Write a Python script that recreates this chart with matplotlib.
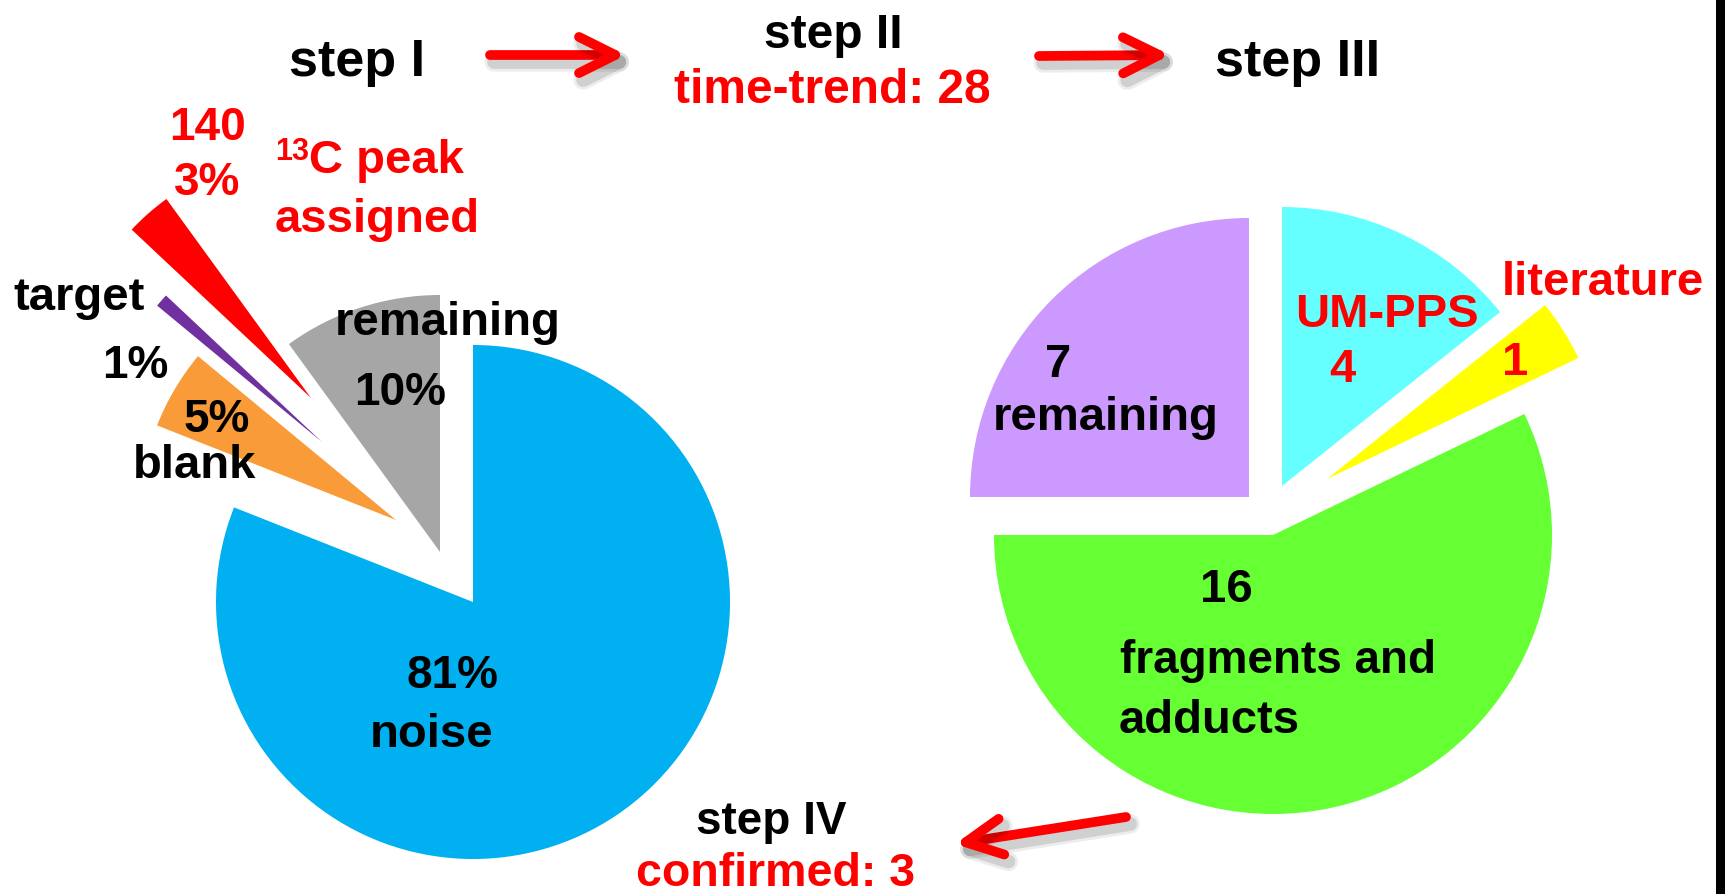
import matplotlib
matplotlib.use("Agg")
import matplotlib.pyplot as plt
from matplotlib.patches import FancyArrowPatch, ArrowStyle, Rectangle
import matplotlib.patheffects as pe

# ---------------- data ----------------
step1_labels = ["noise", "blank", "target", "13C peak assigned", "remaining"]
step1_pct = [81, 5, 1, 3, 10]
step1_colors = ["#00B0F0", "#F99B38", "#7030A0", "#FF0000", "#A6A6A6"]
n_13c = 140

step3_labels = ["UM-PPS", "literature", "fragments and adducts", "remaining"]
step3_counts = [4, 1, 16, 7]
step3_colors = ["#66FFFF", "#FFFF00", "#66FF33", "#CC99FF"]
time_trend_total = 28
confirmed = 3

# ---------------- figure ----------------
W, H = 1725, 895
fig = plt.figure(figsize=(W / 100, H / 100), dpi=100)
ax = fig.add_axes([0, 0, 1, 1])

def Y(y):  # pixel (top-down) -> data (bottom-up)
    return H - y

FONT = "Liberation Sans"

# left pie (step I)
R1 = 257
c1 = (473, Y(603))
offs1 = [(0, 0), (-77, 82), (-151, 160), (-162, 204), (-33, 50)]
rad1 = [R1, R1, 214, 246, R1]
w1, _ = ax.pie(step1_pct, colors=step1_colors, startangle=90, counterclock=False,
               radius=R1, center=c1, wedgeprops=dict(linewidth=0))
for w, (dx, dy), r in zip(w1, offs1, rad1):
    w.set_center((c1[0] + dx, c1[1] + dy))
    w.set_radius(r)

# right pie (step III)
R2 = 279
c2 = (1273, Y(536))
offs2 = [(9, 49), (54, 56), (0, 0), (-24, 38)]
w2, _ = ax.pie(step3_counts, colors=step3_colors, startangle=90, counterclock=False,
               radius=R2, center=c2, wedgeprops=dict(linewidth=0))
for w, (dx, dy) in zip(w2, offs2):
    w.set_center((c2[0] + dx, c2[1] + dy))

ax.set_xlim(0, W)
ax.set_ylim(0, H)
ax.set_aspect("equal")
ax.set_axis_off()

def T(x, y, s, size=34, color="black", ha="center"):
    ax.text(x, Y(y), s, fontsize=size, color=color, ha=ha, va="baseline",
            fontfamily=FONT, fontweight="bold")

# headings
T(357, 76, "step I", size=37.5)
T(833, 48, "step II", size=34.5)
T(832, 103, f"time-trend: {time_trend_total}", size=34.5, color="#FF0000")
T(1298, 76, "step III", size=37.5)
T(771, 834, "step IV", size=33)
T(775, 886, f"confirmed: {confirmed}", size=33.5, color="#FF0000")

# left pie labels
T(207, 140, f"{n_13c}", size=33, color="#FF0000")
T(207, 195, f"{step1_pct[3]}%", size=33, color="#FF0000")
T(275, 160, "13", size=22, color="#FF0000", ha="left")
T(309, 173, "C peak", size=34, color="#FF0000", ha="left")
T(275, 232, "assigned", size=34, color="#FF0000", ha="left")
T(79, 310, step1_labels[2], size=34)
T(135, 378, f"{step1_pct[2]}%", size=33)
T(217, 432, f"{step1_pct[1]}%", size=33)
T(195, 478, step1_labels[1], size=34)
T(448, 335, step1_labels[4], size=34)
T(400, 405, f"{step1_pct[4]}%", size=33)
T(452, 688, f"{step1_pct[0]}%", size=33)
T(432, 747, step1_labels[0], size=34)

# right pie labels
T(1058, 377, f"{step3_counts[3]}", size=34)
T(1106, 430, step3_labels[3], size=34)
T(1387, 327, step3_labels[0], size=34, color="#FF0000")
T(1342, 382, f"{step3_counts[0]}", size=34, color="#FF0000")
T(1603, 295, step3_labels[1], size=34, color="#FF0000")
T(1515, 375, f"{step3_counts[1]}", size=34, color="#FF0000")
T(1226, 602, f"{step3_counts[2]}", size=34)
T(1120, 673, "fragments and", size=33, ha="left")
T(1119, 733, "adducts", size=34, ha="left")

# arrows with soft shadow
shadow = [pe.SimpleLineShadow(offset=(3, -5), shadow_color="#000000", alpha=0.07, linewidth=14),
          pe.SimpleLineShadow(offset=(3, -5), shadow_color="#000000", alpha=0.12, linewidth=10),
          pe.Normal()]

def arrow(p0, p1):
    a = FancyArrowPatch((p0[0], Y(p0[1])), (p1[0], Y(p1[1])),
                        arrowstyle=ArrowStyle("->", head_length=26, head_width=13),
                        mutation_scale=1, color="#FF0000", linewidth=7,
                        capstyle="round", joinstyle="round", shrinkA=0, shrinkB=0)
    a.set_path_effects(shadow)
    ax.add_patch(a)

arrow((490, 56), (626, 56))
arrow((1039, 57), (1170, 56))
arrow((1126, 818), (955, 845))

# black bar on right edge
ax.add_patch(Rectangle((1716, 0), 9, H, color="black", linewidth=0))

fig.savefig("out.png", dpi=100)
